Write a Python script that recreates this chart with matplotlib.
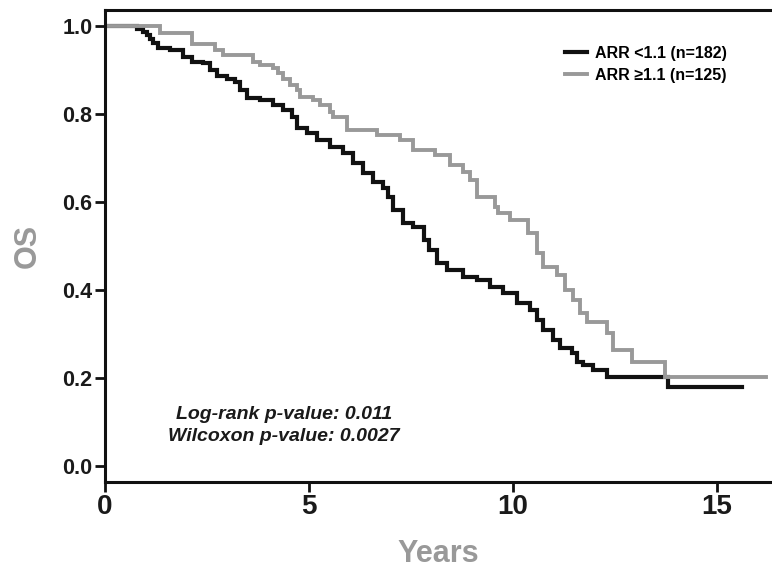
import matplotlib
matplotlib.use("Agg")
import matplotlib.pyplot as plt
from matplotlib.lines import Line2D

# ---- data ----
low_t = [0, 0.78, 0.93, 1.03, 1.10, 1.18, 1.30, 1.59, 1.91, 2.13, 2.40, 2.57, 2.75, 2.99, 3.19,
         3.31, 3.48, 3.80, 4.12, 4.36, 4.58, 4.71, 4.95, 5.20, 5.51, 5.83, 6.08, 6.32, 6.57,
         6.81, 6.94, 7.05, 7.30, 7.55, 7.82, 7.95, 8.15, 8.38, 8.77, 9.12, 9.44, 9.75, 10.10,
         10.42, 10.59, 10.74, 10.98, 11.15, 11.45, 11.57, 11.72, 11.96, 12.30, 13.80, 15.61]
low_s = [1.0, 0.993, 0.986, 0.98, 0.97, 0.961, 0.95, 0.945, 0.93, 0.918, 0.916, 0.90, 0.886, 0.88,
         0.873, 0.855, 0.836, 0.832, 0.82, 0.809, 0.793, 0.768, 0.757, 0.741, 0.725, 0.711,
         0.689, 0.666, 0.645, 0.632, 0.611, 0.582, 0.552, 0.543, 0.514, 0.491, 0.461, 0.445,
         0.43, 0.423, 0.407, 0.393, 0.37, 0.355, 0.332, 0.309, 0.286, 0.268, 0.257, 0.236,
         0.23, 0.218, 0.202, 0.18, 0.18]

high_t = [0, 1.35, 2.13, 2.70, 2.89, 3.63, 3.80, 4.12, 4.24, 4.36, 4.53, 4.71, 4.78, 5.10, 5.27,
          5.51, 5.59, 5.93, 6.67, 7.23, 7.55, 8.09, 8.46, 8.77, 8.95, 9.12, 9.56, 9.63, 9.93,
          10.37, 10.59, 10.74, 11.08, 11.27, 11.47, 11.64, 11.81, 12.30, 12.45, 12.92, 13.73, 16.2]
high_s = [1.0, 0.984, 0.959, 0.945, 0.934, 0.918, 0.911, 0.904, 0.893, 0.88, 0.866, 0.855, 0.839,
          0.832, 0.82, 0.805, 0.793, 0.764, 0.752, 0.741, 0.718, 0.707, 0.684, 0.668, 0.65,
          0.611, 0.589, 0.575, 0.559, 0.53, 0.484, 0.452, 0.434, 0.40, 0.377, 0.348, 0.327,
          0.302, 0.264, 0.236, 0.202, 0.202]

series_labels = ["ARR <1.1 (n=182)", "ARR \u22651.1 (n=125)"]
x_ticks = [0, 5, 10, 15]
y_ticks = [0.0, 0.2, 0.4, 0.6, 0.8, 1.0]
pvalue_lines = ["Log-rank p-value: 0.011", "Wilcoxon p-value: 0.0027"]

plt.rcParams['font.family'] = ['Liberation Sans', 'DejaVu Sans']

fig = plt.figure(figsize=(7.72, 5.68), dpi=100)
ax = fig.add_axes([105/772, 86/568, 1 - 105/772, (482-10)/568])

black = "#111111"
gray = "#999999"

ax.step(low_t, low_s, where="post", color=black, lw=3.0, solid_joinstyle="miter")
ax.step(high_t, high_s, where="post", color=gray, lw=2.8, solid_joinstyle="miter")

ax.set_xlim(0, 16.35)
ax.set_ylim(-16/440, 1 + 16/440)

ax.set_xticks(x_ticks)
ax.set_xticklabels([str(v) for v in x_ticks], fontsize=20, fontweight="bold", color="#1a1a1a")
ax.set_yticks(y_ticks)
ax.set_yticklabels([f"{v:.1f}" for v in y_ticks], fontsize=15.5, fontweight="bold", color="#1a1a1a")
ax.tick_params(axis="both", length=7, width=2.0, color=black, pad=2)

for side in ["left", "bottom", "top"]:
    ax.spines[side].set_linewidth(2.2)
    ax.spines[side].set_color(black)
ax.spines["right"].set_visible(False)

ax.set_xlabel("Years", fontsize=22, fontweight="bold", color=gray, labelpad=13)
ax.set_ylabel("OS", fontsize=22, fontweight="bold", color=gray, labelpad=14)

handles = [Line2D([0], [0], color=black, lw=3.0), Line2D([0], [0], color=gray, lw=2.8)]
leg = ax.legend(handles, series_labels, loc="upper left", bbox_to_anchor=(0.668, 0.955),
                frameon=False, handlelength=1.4, handletextpad=0.5, labelspacing=0.45,
                prop={"weight": "bold", "size": 11.5})

ax.text(0.268, 0.12, pvalue_lines[0] + "\n" + pvalue_lines[1], transform=ax.transAxes,
        ha="center", va="center", fontsize=14, fontweight="bold", style="italic",
        color="#1a1a1a", linespacing=1.35)

fig.savefig("out.png", dpi=100)
